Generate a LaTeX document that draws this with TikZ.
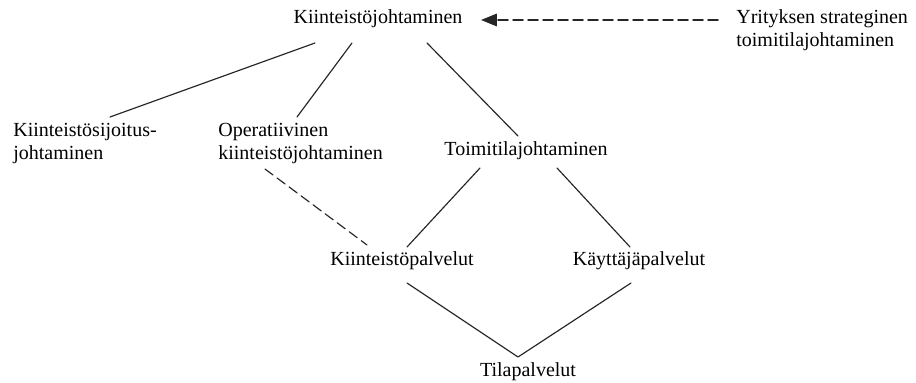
\documentclass[tikz,border=0pt]{standalone}
\usepackage{fontspec}
\setmainfont{Liberation Serif}
\usetikzlibrary{calc,arrows.meta}
\begin{document}
\begin{tikzpicture}[x=0.6pt,y=-0.6pt,font=\fontsize{12}{13.8}\selectfont,line join=round,line cap=round,
	nimi/.style={inner sep=0pt,text=black},
	viiva/.style={line width=0.7pt,draw=black!85},
	katko/.style={viiva,dash pattern=on 6pt off 3pt}]
	\useasboundingbox (0,0) rectangle (916,383);
	%Tekstit (kaksiriviset: base = alarivin perusviiva)
	\node[nimi,anchor=base] (kj) at (378,24) {Kiinteistöjohtaminen};
	\node[nimi,anchor=base west,align=left] (ys) at (736,47) {Yrityksen strateginen\\toimitilajohtaminen};
	\node[nimi,anchor=base west,align=left] (ksj) at (13,160) {Kiinteistösijoitus-\\johtaminen};
	\node[nimi,anchor=base west,align=left] (okj) at (218,160) {Operatiivinen\\kiinteistöjohtaminen};
	\node[nimi,anchor=base] (tj) at (526,156) {Toimitilajohtaminen};
	\node[nimi,anchor=base] (kp) at (402,266) {Kiinteistöpalvelut};
	\node[nimi,anchor=base] (kap) at (639,266) {Käyttäjäpalvelut};
	\node[nimi,anchor=base] (tp) at (528,377) {Tilapalvelut};
	%Viivat
	\draw[viiva] ($(kj.base)+(-63,19)$) -- ($(ksj.base west)+(97,-43)$);
	\draw[viiva] ($(kj.base)+(-26,19)$) -- ($(okj.base west)+(79,-43)$);
	\draw[viiva] ($(kj.base)+(49,19)$) -- ($(tj.base)+(-8,-20)$);
	\draw[katko] ($(okj.base west)+(47,9)$) -- ($(kp.base)+(-35,-21)$);
	\draw[viiva] ($(tj.base)+(-46,12)$) -- ($(kp.base)+(5,-19)$);
	\draw[viiva] ($(tj.base)+(31,12)$) -- ($(kap.base)+(-9,-19)$);
	\draw[viiva] ($(kp.base)+(5,17)$) -- ($(tp.base)+(-10,-20)$) -- ($(kap.base)+(-8,17)$);
	%Nuoli
	\draw[katko,line width=0.9pt,-{Triangle[length=9.5pt,width=7.5pt]}] ($(ys.base west)+(-18,-27)$) -- ($(kj.base)+(103,-4)$);
\end{tikzpicture}
\end{document}
